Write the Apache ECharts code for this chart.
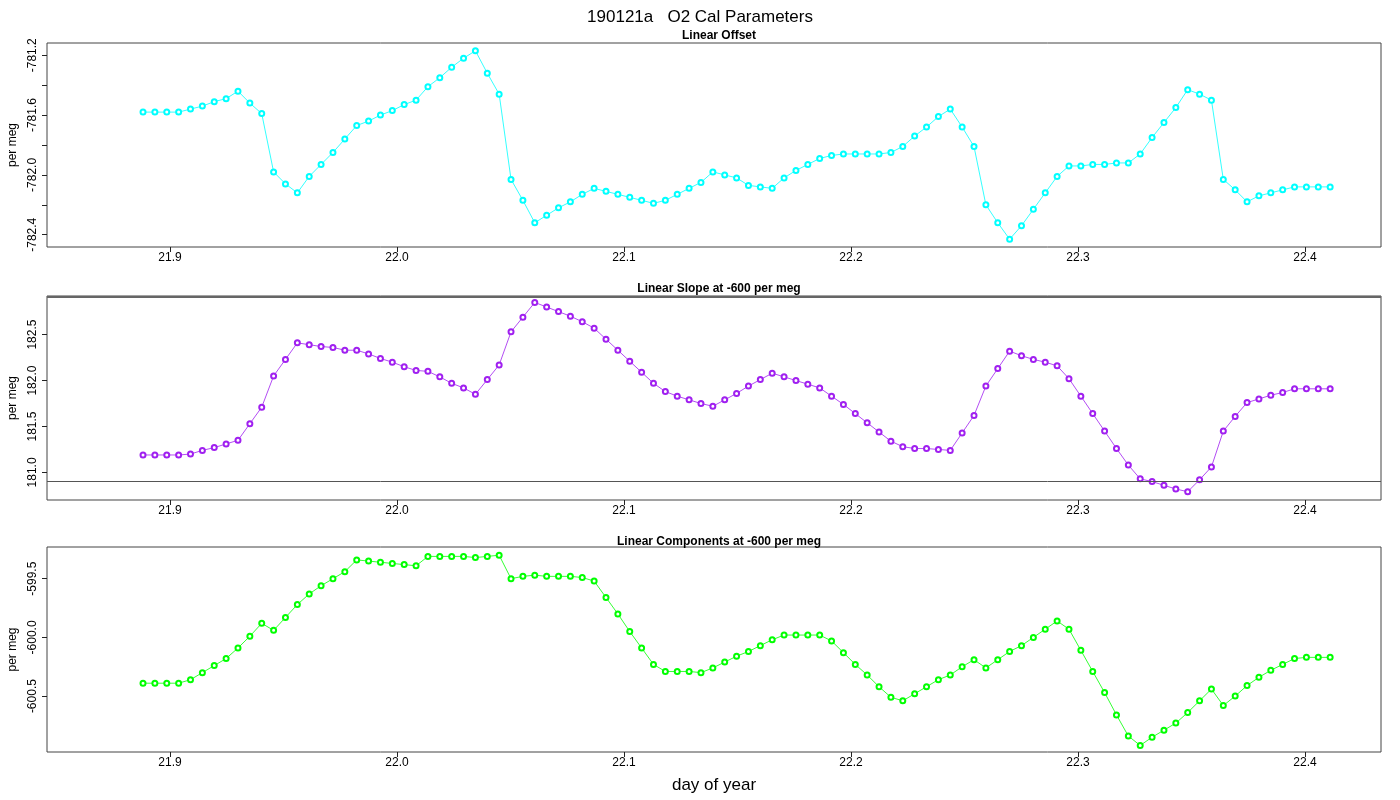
<!DOCTYPE html>
<html>
<head>
<meta charset="utf-8">
<script src="https://cdn.jsdelivr.net/npm/echarts@6/dist/echarts.min.js"></script>
<style>
  html,body{margin:0;padding:0;background:#fff;}
  #main{width:1400px;height:800px;}
</style>
</head>
<body>
<div id="main"></div>
<script>
// sampling grid: first sample day and spacing (about 7.5 min)
var dayStart = 21.8881;
var dayStep = 0.00523;

// Linear Offset (per meg)
var linearOffset = [
  -781.58,-781.58,-781.58,-781.58,-781.56,-781.54,-781.51,-781.49,-781.44,-781.52,
  -781.59,-781.98,-782.06,-782.12,-782.01,-781.93,-781.85,-781.76,-781.67,-781.64,
  -781.60,-781.57,-781.53,-781.50,-781.41,-781.35,-781.28,-781.22,-781.17,-781.32,
  -781.46,-782.03,-782.17,-782.32,-782.27,-782.22,-782.18,-782.13,-782.09,-782.11,
  -782.13,-782.15,-782.17,-782.19,-782.17,-782.13,-782.09,-782.05,-781.98,-782.00,
  -782.02,-782.07,-782.08,
  -782.09,-782.02,-781.97,-781.93,-781.89,-781.87,-781.86,-781.86,-781.86,-781.86,
  -781.85,-781.81,-781.74,-781.68,-781.61,-781.56,-781.68,-781.81,-782.20,-782.32,
  -782.43,-782.34,-782.23,-782.12,-782.01,-781.94,-781.94,-781.93,-781.93,-781.92,
  -781.92,-781.86,-781.75,-781.65,-781.55,-781.43,-781.46,-781.50,-782.03,-782.10,
  -782.18,-782.14,-782.12,-782.10,-782.08,-782.08,-782.08,-782.08
];

// Linear Slope at -600 per meg
var linearSlope = [
  181.19,181.19,181.19,181.19,181.20,181.24,181.27,181.31,181.35,181.53,
  181.71,182.05,182.23,182.41,182.39,182.37,182.36,182.33,182.33,182.29,
  182.24,182.20,182.15,182.11,182.10,182.04,181.97,181.92,181.85,182.01,
  182.17,182.53,182.69,182.85,182.80,182.75,182.70,182.64,182.57,182.45,
  182.33,182.21,182.09,181.97,181.88,181.83,181.79,181.75,181.72,181.79,
  181.86,181.94,182.01,
  182.08,182.04,182.00,181.96,181.92,181.83,181.74,181.64,181.54,181.44,
  181.34,181.28,181.26,181.26,181.25,181.24,181.43,181.62,181.94,182.13,
  182.32,182.27,182.23,182.20,182.16,182.02,181.83,181.64,181.45,181.26,
  181.08,180.93,180.90,180.86,180.82,180.79,180.92,181.06,181.45,181.61,
  181.76,181.80,181.84,181.87,181.91,181.91,181.91,181.91
];

// Linear Components at -600 per meg
var linearComponents = [
  -600.39,-600.39,-600.39,-600.39,-600.36,-600.30,-600.24,-600.18,-600.09,-599.99,
  -599.88,-599.94,-599.83,-599.72,-599.63,-599.56,-599.50,-599.44,-599.34,-599.35,
  -599.36,-599.37,-599.38,-599.39,-599.31,-599.31,-599.31,-599.31,-599.32,-599.31,
  -599.30,-599.50,-599.48,-599.47,-599.48,-599.48,-599.48,-599.49,-599.52,-599.66,
  -599.80,-599.95,-600.09,-600.23,-600.29,-600.29,-600.29,-600.30,-600.26,-600.21,
  -600.16,-600.12,-600.07,
  -600.02,-599.98,-599.98,-599.98,-599.98,-600.03,-600.13,-600.23,-600.32,-600.42,
  -600.51,-600.54,-600.48,-600.42,-600.36,-600.32,-600.25,-600.19,-600.26,-600.19,
  -600.12,-600.07,-600.00,-599.93,-599.86,-599.93,-600.11,-600.29,-600.47,-600.66,
  -600.84,-600.92,-600.85,-600.79,-600.73,-600.64,-600.54,-600.44,-600.58,-600.50,
  -600.41,-600.34,-600.28,-600.23,-600.18,-600.17,-600.17,-600.17
];

var xTicks = [21.9, 22.0, 22.1, 22.2, 22.3, 22.4];
var yTicks1 = [-781.2, -781.4, -781.6, -781.8, -782.0, -782.2, -782.4];
var yLabels1 = [-781.2, -781.6, -782.0, -782.4];
var yTicks2 = [181.0, 181.5, 182.0, 182.5];
var yTicks3 = [-599.5, -600.0, -600.5];
var refLines2 = [180.9, 182.915];

var titles = ['Linear Offset', 'Linear Slope at -600 per meg', 'Linear Components at -600 per meg'];
var colors = ['#00ffff', '#a020f0', '#00ff00'];
var FONT = 'Liberation Sans';

function pairs(vals){
  var out = [];
  for (var i = 0; i < vals.length; i++) {
    out.push([dayStart + i * dayStep, vals[i]]);
  }
  return out;
}

var myChart = echarts.init(document.getElementById('main'));

var gridPos = [
  {top: 43, height: 204},
  {top: 296, height: 204},
  {top: 547, height: 205}
];

var grids = [], xAxes = [], yAxes = [], series = [];
var yRanges = [[-782.482, -781.118], [180.70, 182.92], [-600.976, -599.23]];
var yTickSets = [yTicks1, yTicks2, yTicks3];
var yLabelSets = [yLabels1, yTicks2, yTicks3];
var dataSets = [linearOffset, linearSlope, linearComponents];

for (var k = 0; k < 3; k++) {
  grids.push({
    left: 47, right: 19, top: gridPos[k].top, height: gridPos[k].height,
    outerBoundsMode: 'none', containLabel: false,
    show: true, borderColor: '#444', borderWidth: 1, backgroundColor: 'transparent'
  });
  xAxes.push({
    type: 'value', gridIndex: k, min: 21.8458, max: 22.4335,
    axisLine: {show: false},
    splitLine: {show: false},
    axisTick: {show: true, length: 5, lineStyle: {color: '#222'}, customValues: xTicks},
    axisLabel: {
      show: true, color: '#000', fontSize: 12, fontFamily: FONT, margin: 5,
      customValues: xTicks,
      formatter: function (v) { return v.toFixed(1); }
    },
    name: k === 2 ? 'day of year' : '',
    nameLocation: 'middle', nameGap: 25,
    nameTextStyle: {fontSize: 17, fontFamily: FONT, color: '#000'}
  });
  yAxes.push({
    type: 'value', gridIndex: k, min: yRanges[k][0], max: yRanges[k][1],
    axisLine: {show: false},
    splitLine: {show: false},
    axisTick: {show: true, length: 5, lineStyle: {color: '#222'}, customValues: yTickSets[k]},
    axisLabel: {
      show: true, rotate: 90, color: '#000', fontSize: 12, fontFamily: FONT, margin: 8,
      customValues: yLabelSets[k],
      formatter: function (v) { return v.toFixed(1); }
    },
    name: 'per meg', nameLocation: 'middle', nameGap: 27, nameRotate: 90,
    nameTextStyle: {fontSize: 12, fontFamily: FONT, color: '#000'}
  });
  var s = {
    type: 'line', xAxisIndex: k, yAxisIndex: k,
    data: pairs(dataSets[k]),
    symbol: 'emptyCircle', symbolSize: 5,
    showAllSymbol: true,
    lineStyle: {color: colors[k], width: 0.8},
    itemStyle: {color: colors[k], borderWidth: 0.7},
    animation: false,
    silent: true
  };
  if (k === 1) {
    s.markLine = {
      silent: true, symbol: 'none', label: {show: false},
      data: [{yAxis: refLines2[0], lineStyle: {color: '#555', width: 1, type: 'solid'}},
             {yAxis: refLines2[1], lineStyle: {color: '#666', width: 2, type: 'solid'}}]
    };
  }
  series.push(s);
}

var titleList = [{
  text: '190121a   O2 Cal Parameters', left: 'center', top: 4,
  textStyle: {fontSize: 17, fontWeight: 'normal', fontFamily: FONT, color: '#000'}
}];
var subTop = [25, 278, 531];
for (var t = 0; t < 3; t++) {
  titleList.push({
    text: titles[t], left: 714, textAlign: 'center', top: subTop[t],
    textStyle: {fontSize: 12, fontWeight: 'bold', fontFamily: FONT, color: '#000'}
  });
}

var option = {
  backgroundColor: '#fff',
  animation: false,
  title: titleList,
  grid: grids,
  xAxis: xAxes,
  yAxis: yAxes,
  series: series
};

myChart.setOption(option);
window.onresize = myChart.resize;
</script>
</body>
</html>
